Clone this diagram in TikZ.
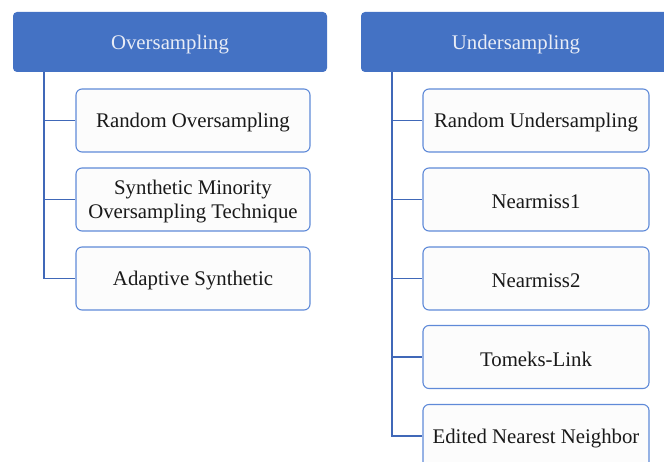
\documentclass[tikz,border=0pt]{standalone}
\usepackage{fontspec}
\setmainfont{Liberation Serif}
\usetikzlibrary{calc}
\definecolor{headblue}{HTML}{4472C4}
\definecolor{headtext}{HTML}{E8ECF6}
\definecolor{boxline}{HTML}{5F8AD8}
\definecolor{linkblue}{HTML}{4068B8}
\definecolor{boxfill}{HTML}{FCFCFC}
% full-ascent strut so labels sit on the font's line box
\newcommand{\lnstrut}{\rule{0pt}{0.89em}}
\tikzset{
  header/.style={draw=none, fill=headblue, rounded corners=4pt, text=headtext,
    font=\fontsize{20.8}{24}\selectfont, inner sep=0pt},
  item/.style={draw=boxline, line width=1.1pt, fill=boxfill, rounded corners=6pt,
    text=black!90, font=\fontsize{20.8}{24}\selectfont, align=center, inner sep=0pt},
  link/.style={draw=linkblue, line width=1.4pt}
}
\begin{document}
\begin{tikzpicture}[x=1pt, y=-1pt]
\useasboundingbox (0,0) rectangle (664,462);
\clip (0,0) rectangle (664,462);
% group headers
\node[header, minimum width=314pt, minimum height=60pt] (ov) at (170,42) {\lnstrut Oversampling};
\node[header, minimum width=310pt, minimum height=60pt] (un) at (516,42) {\lnstrut Undersampling};
% oversampling methods
\node[item, minimum width=234pt, minimum height=63pt] (o1) at (193,120.5) {\lnstrut Random Oversampling};
\node[item, minimum width=234pt, minimum height=63pt] (o2) at (193,199.5) {\lnstrut Synthetic Minority\\Oversampling Technique};
\node[item, minimum width=234pt, minimum height=63pt] (o3) at (193,278.5) {\lnstrut Adaptive Synthetic};
% undersampling methods
\node[item, minimum width=226pt, minimum height=63pt] (u1) at (536,120.5) {\lnstrut Random Undersampling};
\node[item, minimum width=226pt, minimum height=63pt] (u2) at (536,199.5) {\lnstrut Nearmiss1};
\node[item, minimum width=226pt, minimum height=63pt] (u3) at (536,278.5) {\lnstrut Nearmiss2};
\node[item, minimum width=226pt, minimum height=63pt] (u4) at (536,357) {\lnstrut Tomeks-Link};
\node[item, minimum width=226pt, minimum height=63pt] (u5) at (536,436) {\lnstrut Edited Nearest Neighbor};
% tree connectors
\foreach \c in {o1,o2,o3}
  \draw[link] ($(ov.south west)+(31,0)$) |- (\c.west);
\foreach \c in {u1,u2,u3,u4,u5}
  \draw[link] ($(un.south west)+(31,0)$) |- (\c.west);
\end{tikzpicture}
\end{document}
